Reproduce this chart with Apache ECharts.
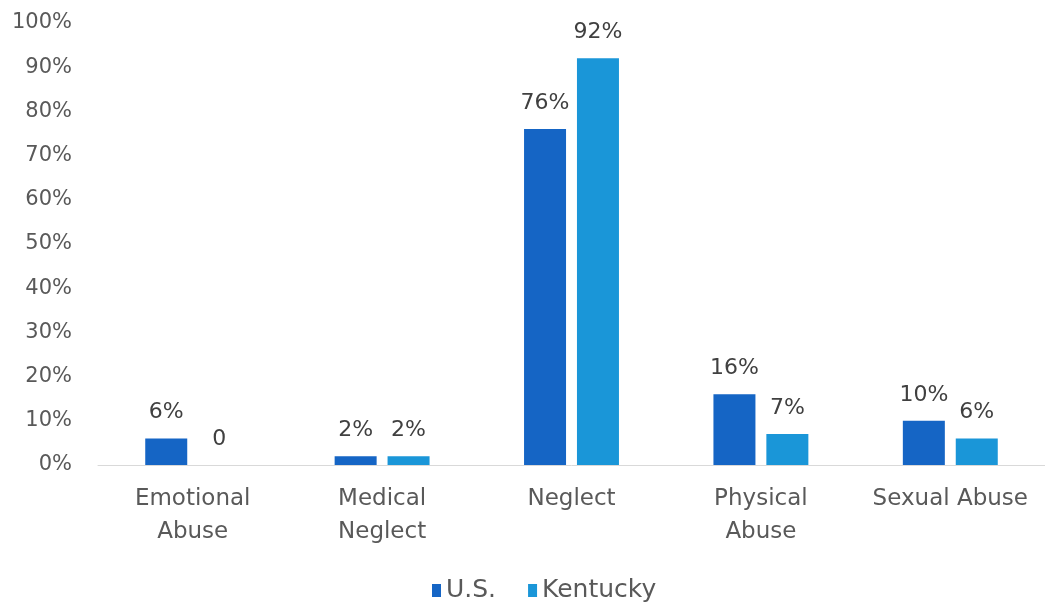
<!DOCTYPE html>
<html><head><meta charset="utf-8">
<script src="https://cdn.jsdelivr.net/npm/echarts@6/dist/echarts.min.js"></script>
<style>html,body{margin:0;padding:0;background:#fff}#c{width:1045px;height:606px}</style>
</head><body><div id="c"></div>
<script>
const categories = ['Emotional\nAbuse', 'Medical\nNeglect', 'Neglect', 'Physical\nAbuse', 'Sexual Abuse'];
const usValues = [6, 2, 76, 16, 10];
const kentuckyValues = [0, 2, 92, 7, 6];
const seriesNames = ['U.S.', 'Kentucky'];
const FONT = 'DejaVu Sans';
const chart = echarts.init(document.getElementById('c'));
const lbl = {
  show: true, position: 'top', distance: 15,
  fontFamily: FONT, fontSize: 22, color: '#404040',
  formatter: p => p.value === 0 ? '0' : p.value + '%'
};
chart.setOption({
  animation: false,
  textStyle: {fontFamily: FONT},
  grid: {left: 98, right: -4, top: 23, bottom: 141, containLabel: false},
  legend: {
    data: seriesNames, top: 573, left: 427, itemWidth: 9, itemHeight: 13, itemGap: 32,
    icon: 'rect', textStyle: {fontFamily: FONT, fontSize: 25, color: '#595959'}
  },
  xAxis: {
    type: 'category', data: categories,
    axisLine: {lineStyle: {color: '#d9d9d9', width: 1}},
    axisTick: {show: false},
    axisLabel: {fontFamily: FONT, fontSize: 23, color: '#595959', margin: 18, lineHeight: 33, interval: 0}
  },
  yAxis: {
    type: 'value', min: 0, max: 100, interval: 10,
    splitLine: {show: false},
    axisLine: {show: false}, axisTick: {show: false},
    axisLabel: {fontFamily: FONT, fontSize: 21, color: '#595959', margin: 26, formatter: '{value}%'}
  },
  series: [
    {name: seriesNames[0], type: 'bar', data: usValues, barWidth: 42, barGap: '26%',
     itemStyle: {color: '#1565c5'}, label: lbl},
    {name: seriesNames[1], type: 'bar', data: kentuckyValues, barWidth: 42,
     itemStyle: {color: '#1a96d8'}, label: lbl}
  ]
});
</script></body></html>
